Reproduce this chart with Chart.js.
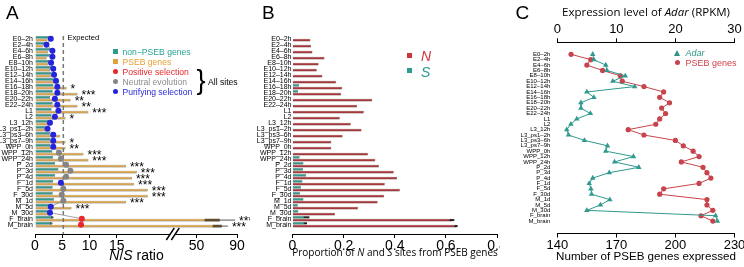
<!DOCTYPE html>
<html>
<head>
<meta charset="utf-8">
<title>PSEB genes</title>
<script src="https://cdn.jsdelivr.net/npm/chart.js@4.4.1/dist/chart.umd.min.js"></script>
<style>
  body { margin: 0; background: #fff; }
  #fig { position: relative; width: 744px; height: 267px; overflow: hidden; font-family: "Liberation Sans", Arial, sans-serif; color: #000; }
  #fig canvas { position: absolute; top: 0; }
  .lbl { position: absolute; white-space: nowrap; line-height: 1; }
  .mk { position: absolute; }
</style>
</head>
<body>
<div id="fig">
  <canvas id="chartA" width="250" height="267" style="left:0"></canvas>
  <canvas id="chartB" width="250" height="267" style="left:250px"></canvas>
  <canvas id="chartC" width="244" height="267" style="left:500px"></canvas>
</div>
<script>
// developmental stages / tissues (rows, top to bottom)
const stages = ["E0–2h", "E2–4h", "E4–6h", "E6–8h", "E8–10h", "E10–12h", "E12–14h", "E14–16h",
  "E16–18h", "E18–20h", "E20–22h", "E22–24h", "L1", "L2", "L3_12h", "L3_ps1–2h", "L3_ps3–6h",
  "L3_ps7–9h", "WPP_0h", "WPP_12h", "WPP_24h", "P_2d", "P_3d", "P_4d", "F_1d", "F_5d", "F_30d",
  "M_1d", "M_5d", "M_30d", "F_brain", "M_brain"];

// panel A: N/S ratios
const nonPsebRatio = [2.6, 1.8, 2.9, 2.75, 2.6, 3.05, 3.05, 3.4, 3.4, 3.25, 2.75, 3.25, 3.05, 3.05, 2.45, 1.85,
  2.75, 2.85, 2.85, 3.2, 3.35, 3.7, 4.3, 3.7, 3.35, 3.25, 3.25, 3.5, 2.6, 2.45, 3.25, 3.05];
const psebRatio = [2.3, 1.5, 2.45, 2.15, 2.45, 2.75, 3.05, 4.4, 5.8, 7.8, 6.55, 7.8, 9.8, 5.6, 2.75, 2.15,
  4.6, 5.6, 5.6, 8.9, 9.8, 16.7, 18.7, 17.8, 18.2, 20.7, 20.7, 16.7, 6.7, 2.75, 73, 75];
const allSitesRatio = [2.9, 2.1, 3.2, 3.2, 2.95, 3.35, 3.5, 3.85, 4.1, 4.1, 3.65, 4.1, 4.3, 3.65, 2.75, 2.3,
  3.35, 3.35, 3.35, 4.4, 4.75, 5.7, 6.5, 5.7, 4.75, 5.2, 4.9, 5.2, 2.9, 2.75, 8.6, 8.45];
// F = purifying, N = neutral, P = positive
const allSitesType = ["F", "F", "F", "F", "F", "F", "F", "F", "F", "F", "F", "F", "F", "F", "F", "F",
  "F", "F", "F", "N", "N", "N", "N", "N", "F", "N", "N", "N", "F", "F", "P", "P"];
const psebStars = ["", "", "", "", "", "", "", "", "*", "***", "**", "**", "***", "*", "", "",
  "", "*", "**", "***", "***", "***", "***", "***", "***", "***", "***", "***", "***", "", "***", "***"];
const psebErr = { 30: [58, 88], 31: [66, 81] };
const nonPsebErr = { 30: [3.0, 3.45], 31: [2.8, 3.25] };
const expectedRatio = 5.2;
const ratioTicks = [0, 5, 10, 15, 50, 90];

// panel B: proportion of N and S sites from PSEB genes
const propN = [0.070, 0.073, 0.078, 0.125, 0.102, 0.095, 0.117, 0.170, 0.194, 0.190, 0.312, 0.253, 0.279, 0.185,
  0.228, 0.270, 0.196, 0.152, 0.152, 0.295, 0.324, 0.338, 0.396, 0.409, 0.361, 0.420, 0.358, 0.333, 0.256,
  0.166, 0.623, 0.640];
const propS = [0.002, 0.002, 0.002, 0.002, 0.002, 0.002, 0.002, 0.002, 0.026, 0.022, 0.002, 0.002, 0.002, 0.002,
  0.002, 0.002, 0.002, 0.002, 0.002, 0.002, 0.028, 0.043, 0.041, 0.054, 0.039, 0.033, 0.030, 0.043, 0.021,
  0.023, 0.046, 0.046];
const propNErr = { 30: [0.615, 0.633], 31: [0.634, 0.646] };
const propSErr = { 30: [0.044, 0.066], 31: [0.044, 0.057] };

// panel C: Adar expression and number of PSEB genes expressed
const adarRpkm = [6.0, 6.2, 8.2, 8.4, 11.5, 9.4, 13.1, 5.0, 6.2, 4.0, 4.0, 5.6, 3.3, 2.3, 1.6, 1.9,
  4.6, 8.5, 8.2, 12.9, 9.7, 13.8, 8.8, 6.0, 5.4, 5.7, 5.8, 8.9, 7.3, 5.0, 26.8, 27.1];
const psebExpressed = [147, 157, 155, 163, 172, 173, 184, 194, 192, 197, 193, 195, 192, 190, 176, 184,
  200, 204, 209, 212, 203, 214, 216, 218, 212, 194, 192, 216, 216, 219, 213, 219];

const TEAL = "#2f9a8d", TAN = "#d5a34d", NRED = "#a6383d", CRED = "#c8434b";
const selColor = { P: "#e8262c", N: "#858585", F: "#2424dc" };

Chart.defaults.font.family = '"Liberation Sans", Arial, sans-serif';
Chart.defaults.color = "#000";

// broken x axis of panel A: linear up to 25, compressed above
const gapAt = 25, gapScale = 0.186;
const squash = v => v <= gapAt ? v : gapAt + (v - gapAt) * gapScale;

function stageAxis(min, max, width, size, pad) {
  return {
    type: "linear", reverse: true, min, max, offset: false, bounds: "data",
    afterBuildTicks: s => { s.ticks = stages.map((_, i) => ({ value: i })); },
    afterFit: s => { s.width = width; s.paddingTop = 0; s.paddingBottom = 0; },
    ticks: { autoSkip: false, padding: pad, font: { size }, callback: v => stages[v] },
    grid: { display: false, drawTicks: false },
    border: { display: false }
  };
}
const rows = arr => arr.map((v, i) => ({ x: v, y: i }));
const quiet = { legend: { display: false }, tooltip: { enabled: false } };

// ---------- panel A ----------
const decorA = {
  id: "decorA",
  beforeDatasetDraw(chart, args) {
    if (args.index !== 2) return;
    const { ctx, scales: { x, y } } = chart;
    const px = x.getPixelForValue(squash(expectedRatio));
    ctx.save();
    ctx.strokeStyle = "#777"; ctx.lineWidth = 1.5; ctx.setLineDash([4, 3]);
    ctx.beginPath(); ctx.moveTo(px, y.getPixelForValue(-0.45)); ctx.lineTo(px, chart.chartArea.bottom); ctx.stroke();
    ctx.restore();
  },
  afterDatasetsDraw(chart) {
    const { ctx, scales: { x, y } } = chart;
    const err = (bars, errs) => Object.entries(errs).forEach(([i, [lo, hi]]) => {
      const b = bars[i], x0 = x.getPixelForValue(squash(lo)), x1 = x.getPixelForValue(squash(hi));
      ctx.fillStyle = "rgba(50,35,20,0.7)";
      ctx.fillRect(x0, b.y - b.height / 2, b.x - x0, b.height);
      ctx.strokeStyle = "#555"; ctx.lineWidth = 1;
      ctx.beginPath(); ctx.moveTo(b.x, b.y); ctx.lineTo(x1, b.y); ctx.stroke();
    });
    ctx.save();
    err(chart.getDatasetMeta(0).data, nonPsebErr);
    err(chart.getDatasetMeta(1).data, psebErr);
    ctx.fillStyle = "#000"; ctx.font = '12px "Liberation Sans", Arial'; ctx.textBaseline = "middle";
    const tan = chart.getDatasetMeta(1).data;
    psebStars.forEach((s, i) => {
      if (!s) return;
      const end = psebErr[i] ? x.getPixelForValue(squash(psebErr[i][1])) : tan[i].x;
      ctx.fillText(s, end + 4, y.getPixelForValue(i) + 2.5);
    });
    ctx.restore();
  },
  afterDraw(chart) {
    const { ctx, scales: { x } } = chart;
    const bx = x.getPixelForValue(gapAt + 0.3), by = chart.chartArea.bottom;
    ctx.save();
    ctx.fillStyle = "#fff"; ctx.fillRect(bx - 3, by - 2, 6, 4);
    ctx.strokeStyle = "#000"; ctx.lineWidth = 1.4;
    [-2.5, 2.5].forEach(d => {
      ctx.beginPath(); ctx.moveTo(bx + d - 4, by + 6); ctx.lineTo(bx + d + 4, by - 6); ctx.stroke();
    });
    ctx.restore();
  }
};

new Chart(document.getElementById("chartA"), {
  type: "bar",
  data: {
    datasets: [
      { label: "non−PSEB genes", data: rows(nonPsebRatio.map(squash)), backgroundColor: TEAL,
        borderColor: "rgba(0,0,0,0.65)", borderWidth: 0.5, order: 1 },
      { label: "PSEB genes", data: rows(psebRatio.map(squash)), backgroundColor: TAN,
        borderColor: "rgba(0,0,0,0.65)", borderWidth: 0.5, order: 1 },
      { type: "line", label: "All sites", data: rows(allSitesRatio.map(squash)), borderColor: "#8a8a8a",
        borderWidth: 0.8, pointRadius: 3, pointBorderWidth: 0,
        pointBackgroundColor: allSitesType.map(t => selColor[t]), order: 0 }
    ]
  },
  options: {
    responsive: false, animation: false, indexAxis: "y",
    layout: { padding: { left: 0, right: 13, top: 30, bottom: 13 } },
    plugins: quiet,
    datasets: { bar: { categoryPercentage: 0.92, barPercentage: 0.95 } },
    scales: {
      x: {
        type: "linear", min: 0, max: squash(90), bounds: "data",
        afterBuildTicks: s => { s.ticks = ratioTicks.map(v => ({ value: squash(v) })); },
        afterFit: s => { s.height = 20; s.paddingLeft = 0; s.paddingRight = 0; },
        ticks: { autoSkip: false, maxRotation: 0, padding: 0, font: { size: 14 }, callback: (v, i) => ratioTicks[i] },
        grid: { drawOnChartArea: false, tickLength: 4, color: "#000" },
        border: { color: "#000", width: 1 }
      },
      y: stageAxis(-1.45, 32.55, 35, 7, 2)
    }
  },
  plugins: [decorA]
});

// ---------- panel B ----------
const errB = {
  id: "errB",
  afterDatasetsDraw(chart) {
    const { ctx, scales: { x } } = chart;
    ctx.save();
    ctx.fillStyle = "#222";
    [[0, propSErr], [1, propNErr]].forEach(([k, errs]) => {
      const bars = chart.getDatasetMeta(k).data;
      Object.entries(errs).forEach(([i, [lo, hi]]) => {
        const b = bars[i], x0 = x.getPixelForValue(lo);
        ctx.fillRect(x0, b.y - 1, x.getPixelForValue(hi) - x0, 2);
      });
    });
    ctx.restore();
  }
};

new Chart(document.getElementById("chartB"), {
  type: "bar",
  data: {
    datasets: [
      { label: "S", data: rows(propS), backgroundColor: TEAL, borderColor: "rgba(0,0,0,0.6)", borderWidth: 0.5 },
      { label: "N", data: rows(propN), backgroundColor: NRED, borderColor: "rgba(60,0,0,0.8)", borderWidth: 0.5 }
    ]
  },
  options: {
    responsive: false, animation: false, indexAxis: "y",
    layout: { padding: { left: 0, right: 3, top: 30, bottom: 13 } },
    plugins: quiet,
    datasets: { bar: { categoryPercentage: 0.92, barPercentage: 0.95 } },
    scales: {
      x: {
        type: "linear", min: 0, max: 0.8, bounds: "data",
        afterFit: s => { s.height = 20; s.paddingLeft = 0; s.paddingRight = 0; },
        ticks: { stepSize: 0.2, autoSkip: false, maxRotation: 0, padding: 0, font: { size: 14 } },
        grid: { drawOnChartArea: false, tickLength: 4, color: "#000" },
        border: { color: "#000", width: 1 }
      },
      y: stageAxis(-1.45, 32.55, 42.5, 7, 1)
    }
  },
  plugins: [errB]
});

// ---------- panel C ----------
new Chart(document.getElementById("chartC"), {
  type: "line",
  data: {
    datasets: [
      { label: "Adar", data: rows(adarRpkm), xAxisID: "x", borderColor: TEAL, borderWidth: 1,
        pointStyle: "triangle", pointRadius: 3.2, pointBorderWidth: 0, pointBackgroundColor: TEAL },
      { label: "PSEB genes", data: rows(psebExpressed), xAxisID: "x2", borderColor: CRED, borderWidth: 1,
        pointStyle: "circle", pointRadius: 2.6, pointBorderWidth: 0, pointBackgroundColor: CRED }
    ]
  },
  options: {
    responsive: false, animation: false, indexAxis: "y",
    layout: { padding: { left: 0, right: 9.5, top: 22, bottom: 13.5 } },
    plugins: quiet,
    scales: {
      x: {
        type: "linear", position: "top", min: 0, max: 30, bounds: "data",
        afterFit: s => { s.height = 20.3; s.paddingLeft = 0; s.paddingRight = 0; },
        ticks: { stepSize: 10, autoSkip: false, maxRotation: 0, padding: 1, font: { size: 13 } },
        grid: { drawOnChartArea: false, tickLength: 4, color: "#000" },
        border: { color: "#000", width: 1 }
      },
      x2: {
        type: "linear", position: "bottom", min: 140, max: 230, bounds: "data",
        afterFit: s => { s.height = 20; s.paddingLeft = 0; s.paddingRight = 0; },
        ticks: { stepSize: 30, autoSkip: false, maxRotation: 0, padding: 0, font: { size: 13 } },
        grid: { drawOnChartArea: false, tickLength: 4, color: "#000" },
        border: { color: "#000", width: 1 }
      },
      y: stageAxis(-2.23, 33.3, 57.3, 6, 7)
    }
  }
});

// ---------- text, legends ----------
const fig = document.getElementById("fig");
function label(html, x, y, size, color, opts = {}) {
  const d = document.createElement("div");
  d.className = "lbl";
  d.innerHTML = html;
  d.style.left = x + "px"; d.style.top = y + "px";
  d.style.fontSize = size + "px"; d.style.color = color || "#000";
  if (opts.font) d.style.fontFamily = opts.font;
  d.style.transform = opts.center ? "translate(-50%,-50%)" : "translate(0,-50%)";
  fig.appendChild(d);
  if (opts.fit) d.style.fontSize = size * opts.fit / d.getBoundingClientRect().width + "px";
  return d;
}
function marker(shape, x, y, color, s) {
  const d = document.createElement("div");
  d.className = "mk";
  if (shape === "tri") {
    Object.assign(d.style, { left: x - s / 2 + "px", top: y - s / 2 + "px", width: 0, height: 0,
      borderLeft: s / 2 + "px solid transparent", borderRight: s / 2 + "px solid transparent",
      borderBottom: s + "px solid " + color });
  } else {
    Object.assign(d.style, { left: x - s / 2 + "px", top: y - s / 2 + "px", width: s + "px", height: s + "px",
      background: color, borderRadius: shape === "dot" ? "50%" : "0" });
  }
  fig.appendChild(d);
}

label("A", 6, 11.5, 19);
label("B", 262, 11.5, 19);
label("C", 515.5, 11.5, 19);

// panel A legend
const legA = [["sq", "#2a9d90", "non−PSEB genes"], ["sq", "#e0a03a", "PSEB genes"],
  ["dot", "#e8262c", "Positive selection"], ["dot", "#858585", "Neutral evolution"], ["dot", "#2424dc", "Purifying selection"]];
const legAText = ["#26a394", "#e89f2f", "#e8262c", "#8a8a8a", "#2a2ad8"];
legA.forEach(([shape, c, t], k) => {
  marker(shape, 115.5, 51.7 + 10 * k, c, shape === "sq" ? 4.5 : 5);
  label(t, 122.5, 51.7 + 10 * k, 8.6, legAText[k]);
});
label("}", 196.5, 80, 27, "#000");
label("All sites", 208, 81.7, 8.6);
label("Expected", 67.5, 38, 7.6);
label("<i>N</i>/<i>S</i> ratio", 136.5, 255, 14, "#000", { center: true });

// panel B legend and title
marker("sq", 409, 55.5, "#cf343b", 5);
label("<i>N</i>", 421, 55.5, 14, "#cf343b");
marker("sq", 409, 70.7, "#2a9d90", 5);
label("<i>S</i>", 421, 71.5, 14, "#2a9d90");
label("Proportion of <i>N</i> and <i>S</i> sites from PSEB genes", 395, 252, 11, "#000",
  { center: true, font: '"Open Sans", sans-serif', fit: 206 });

// panel C legend and titles
label("Expression level of <i>Adar</i> (RPKM)", 646, 11.7, 11, "#000",
  { center: true, font: '"Open Sans", sans-serif', fit: 168 });
marker("tri", 677, 53, "#2b9385", 6);
label("<i>Adar</i>", 685.5, 53, 9, "#2b9385");
marker("dot", 677, 62.8, CRED, 5);
label("PSEB genes", 685.5, 63, 9, "#d0424b");
label("Number of PSEB genes expressed", 646, 256, 12, "#000", { center: true, fit: 180 });
</script>
</body>
</html>
